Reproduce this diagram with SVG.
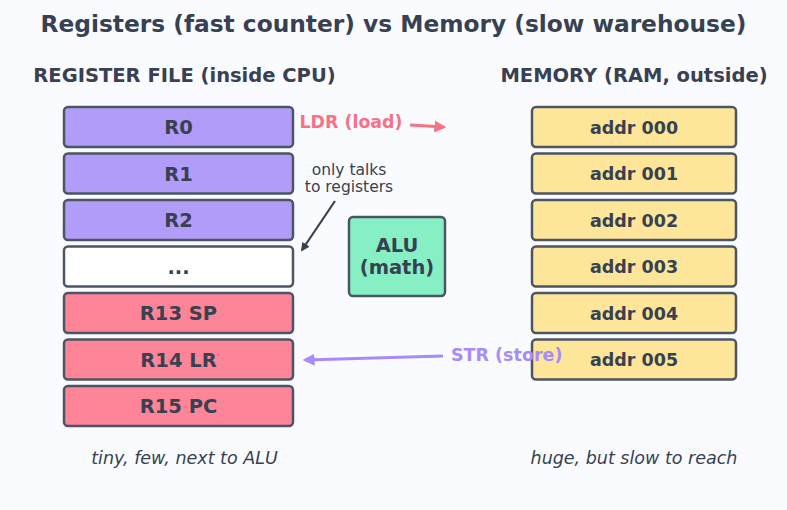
<svg xmlns="http://www.w3.org/2000/svg" width="787" height="510" viewBox="0 0 787 510">
<defs>
<style>
text{font-family:"DejaVu Sans","Liberation Sans",sans-serif;fill:#374151}
.box{stroke:#4b5563;stroke-width:2.5}
.reg{font-size:19.5px;font-weight:bold;text-anchor:middle}
.mem{font-size:17.5px;font-weight:bold;text-anchor:middle}
.hdr{font-size:19.5px;font-weight:bold;text-anchor:middle}
.cap{font-size:17.5px;font-style:italic;text-anchor:middle}
</style>
<marker id="mp" viewBox="0 0 10 10" refX="8" refY="5" markerWidth="4" markerHeight="4" orient="auto"><path d="M0,0 L10,5 L0,10 z" fill="#f87185"/></marker>
<marker id="mv" viewBox="0 0 10 10" refX="8" refY="5" markerWidth="4" markerHeight="4" orient="auto"><path d="M0,0 L10,5 L0,10 z" fill="#a78bfa"/></marker>
<marker id="md" viewBox="0 0 10 10" refX="8" refY="5" markerWidth="4" markerHeight="4" orient="auto"><path d="M0,0 L10,5 L0,10 z" fill="#374151"/></marker>
</defs>
<rect width="787" height="510" fill="#fafbfe"/>
<text x="393.5" y="32" style="font-size:23.3px;font-weight:bold;text-anchor:middle">Registers (fast counter) vs Memory (slow warehouse)</text>
<text class="hdr" x="184.5" y="82">REGISTER FILE (inside CPU)</text>
<text class="hdr" x="634" y="82">MEMORY (RAM, outside)</text>
<g id="r0"><rect class="box" x="64" y="107" width="229" height="40" rx="4" fill="#b19cf9"/><text class="reg" x="178.5" y="134">R0</text></g>
<g id="r1"><rect class="box" x="64" y="153.5" width="229" height="40" rx="4" fill="#b19cf9"/><text class="reg" x="178.5" y="180.5">R1</text></g>
<g id="r2"><rect class="box" x="64" y="200" width="229" height="40" rx="4" fill="#b19cf9"/><text class="reg" x="178.5" y="227">R2</text></g>
<g id="rdots"><rect class="box" x="64" y="246.5" width="229" height="40" rx="4" fill="#ffffff"/><text class="reg" x="178.5" y="273.5">...</text></g>
<g id="r13"><rect class="box" x="64" y="293" width="229" height="40" rx="4" fill="#fd8597"/><text class="reg" x="178.5" y="320">R13 SP</text></g>
<g id="r14"><rect class="box" x="64" y="339.5" width="229" height="40" rx="4" fill="#fd8597"/><text class="reg" x="178.5" y="366.5">R14 LR</text></g>
<g id="r15"><rect class="box" x="64" y="386" width="229" height="40" rx="4" fill="#fd8597"/><text class="reg" x="178.5" y="413">R15 PC</text></g>
<g id="m0"><rect class="box" x="532" y="107" width="204" height="40" rx="4" fill="#fde69a"/><text class="mem" x="634" y="133.5">addr 000</text></g>
<g id="m1"><rect class="box" x="532" y="153.5" width="204" height="40" rx="4" fill="#fde69a"/><text class="mem" x="634" y="180">addr 001</text></g>
<g id="m2"><rect class="box" x="532" y="200" width="204" height="40" rx="4" fill="#fde69a"/><text class="mem" x="634" y="226.5">addr 002</text></g>
<g id="m3"><rect class="box" x="532" y="246.5" width="204" height="40" rx="4" fill="#fde69a"/><text class="mem" x="634" y="273">addr 003</text></g>
<g id="m4"><rect class="box" x="532" y="293" width="204" height="40" rx="4" fill="#fde69a"/><text class="mem" x="634" y="319.5">addr 004</text></g>
<g id="m5"><rect class="box" x="532" y="339.5" width="204" height="40" rx="4" fill="#fde69a"/><text class="mem" x="634" y="366">addr 005</text></g>
<g id="alu"><rect class="box" x="349" y="217" width="96" height="79" rx="4" fill="#86efc4"/><text class="reg" x="397" y="252">ALU</text><text class="reg" x="397" y="274">(math)</text></g>
<g id="connectors">
<line x1="410" y1="125" x2="444" y2="127" stroke="#f87185" stroke-width="3" marker-end="url(#mp)"/>
<line x1="443" y1="356" x2="305" y2="360" stroke="#a78bfa" stroke-width="3" marker-end="url(#mv)"/>
<line x1="335" y1="201" x2="302" y2="250" stroke="#374151" stroke-width="2.2" marker-end="url(#md)"/>
</g>
<text x="351" y="128" style="font-size:17.4px;font-weight:bold;text-anchor:middle;fill:#f87185">LDR (load)</text>
<text x="451" y="361" style="font-size:17.5px;font-weight:bold;fill:#a78bfa">STR (store)</text>
<text x="349" y="175" style="font-size:15.5px;text-anchor:middle">only talks</text>
<text x="349" y="192" style="font-size:15.5px;text-anchor:middle">to registers</text>
<text class="cap" x="184.5" y="464">tiny, few, next to ALU</text>
<text class="cap" x="634" y="464">huge, but slow to reach</text>
</svg>
